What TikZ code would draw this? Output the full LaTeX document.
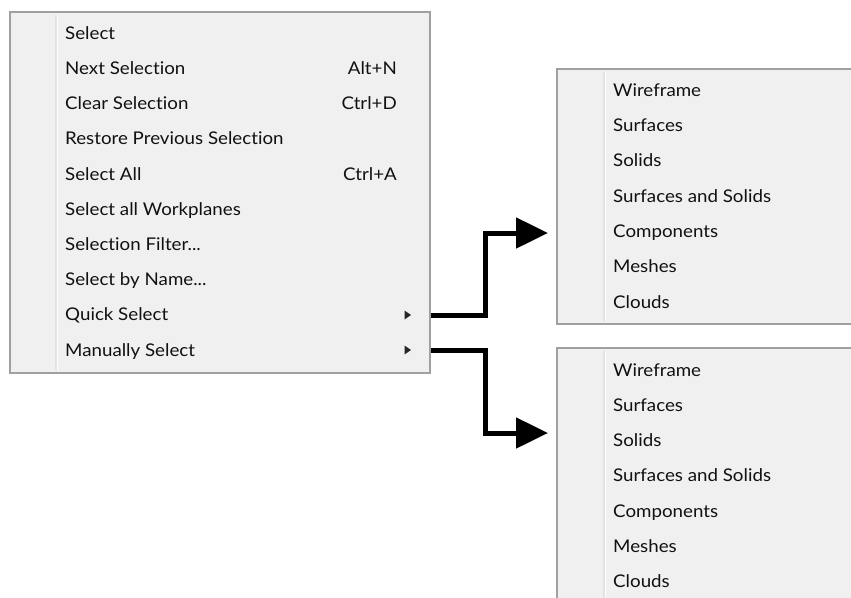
\documentclass[tikz,border=0pt]{standalone}
\usepackage{fontspec}
\setmainfont{Lato}[FakeStretch=1.07, Ligatures={NoCommon,NoDiscretionary}]
\usetikzlibrary{arrows.meta}
\definecolor{menufill}{HTML}{F0F0F0}
\definecolor{menuborder}{HTML}{A0A0A0}
\definecolor{gutter}{HTML}{E2E2E2}
\definecolor{menutext}{HTML}{111111}
\tikzset{
  menubox/.style={fill=menufill, draw=menuborder, line width=1.3pt},
  gutterline/.style={draw=gutter, line width=1.2pt},
  item/.style={anchor=base west, inner sep=0pt, text=menutext, font=\fontsize{17.5}{19}\selectfont},
  keyitem/.style={anchor=base east, inner sep=0pt, text=menutext, font=\fontsize{17.5}{19}\selectfont},
  subarrow/.style={fill=black!85},
  connector/.style={draw=black, line width=5pt, line join=miter, -{Triangle[length=32pt,width=30pt]}}
}
\begin{document}
\begin{tikzpicture}[x=1pt,y=-1pt]
\clip (0,0) rectangle (851,597);
\fill[white] (0,0) rectangle (851,597);
% left menu
\draw[menubox] (10,12) rectangle (430,373);
\draw[gutterline] (56,15) -- (56,370);
\draw[white, line width=1pt] (57.5,15) -- (57.5,370);
\foreach \t [count=\i from 0] in {{Select},{Next Selection},{Clear Selection},{Restore Previous Selection},{Select All},{Select all Workplanes},{Selection Filter{.}{.}{.}},{Select by Name{.}{.}{.}},{Quick Select},{Manually Select}}{
  \node[item] (l\i) at (65,{33+35.2*\i+6.3}) {\t};
}
\node[keyitem] (k1) at (397,{33+35.2*1+6.3}) {Alt+N};
\node[keyitem] (k2) at (397,{33+35.2*2+6.3}) {Ctrl+D};
\node[keyitem] (k4) at (397,{33+35.2*4+6.3}) {Ctrl+A};
\fill[subarrow] (404.5,310.5) -- (411,315) -- (404.5,319.5) -- cycle;
\fill[subarrow] (404.5,345.5) -- (411,350) -- (404.5,354.5) -- cycle;
% right menu 1
\draw[menubox] (557,69) rectangle (870,324);
\draw[gutterline] (604,72) -- (604,321);
\draw[white, line width=1pt] (605.5,72) -- (605.5,321);
\foreach \t [count=\i from 0] in {Wireframe,Surfaces,Solids,Surfaces and Solids,Components,Meshes,Clouds}{
  \node[item] (a\i) at (613,{90+35.3*\i+6.3}) {\t};
}
% right menu 2
\draw[menubox] (557,348) rectangle (870,640);
\draw[gutterline] (604,351) -- (604,600);
\draw[white, line width=1pt] (605.5,351) -- (605.5,600);
\foreach \t [count=\i from 0] in {Wireframe,Surfaces,Solids,Surfaces and Solids,Components,Meshes,Clouds}{
  \node[item] (b\i) at (613,{370+35.2*\i+6.3}) {\t};
}
% connectors
\coordinate (qsout) at (431,315);
\coordinate (msout) at (431,350);
\coordinate (sub1in) at (548,233);
\coordinate (sub2in) at (548,433);
\draw[connector] (qsout) -- (485,315) |- (sub1in);
\draw[connector] (msout) -- (485,350) |- (sub2in);
\end{tikzpicture}
\end{document}
